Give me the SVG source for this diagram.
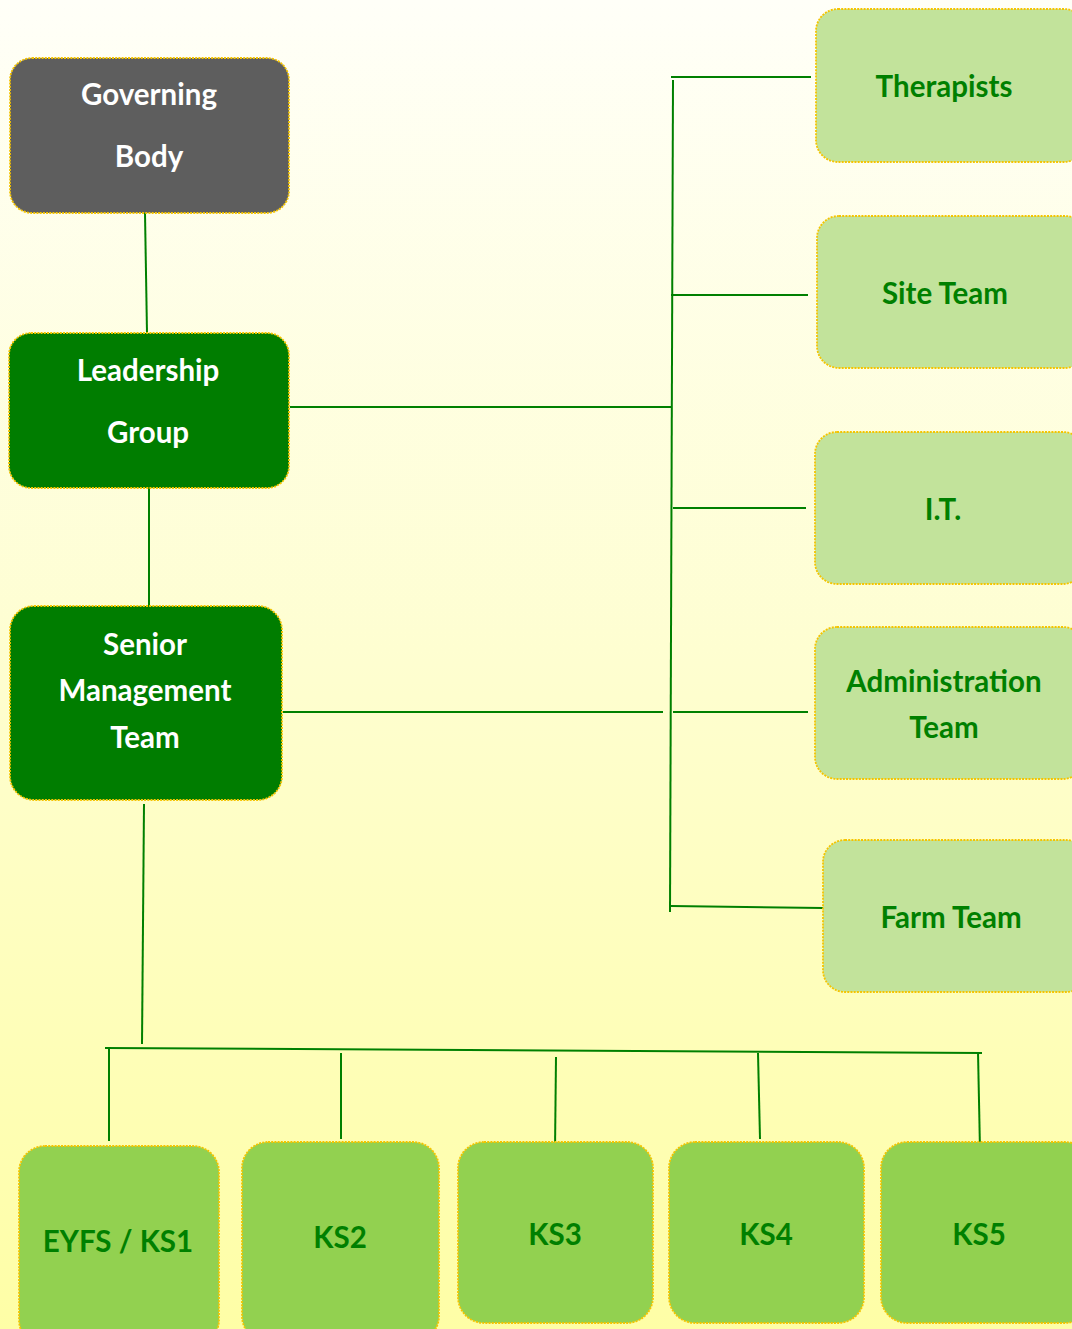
<svg xmlns="http://www.w3.org/2000/svg" width="1072" height="1329" viewBox="0 0 1072 1329">
<defs>
<linearGradient id="bg" x1="0" y1="0" x2="0" y2="1">
<stop offset="0" stop-color="#fffff8"/>
<stop offset="0.5" stop-color="#fefed0"/>
<stop offset="1" stop-color="#fefea6"/>
</linearGradient>
<style>
.box{stroke:#f5c400;stroke-width:1.8;stroke-dasharray:2 1.2}
.dark{fill:#5e5e5e}
.green{fill:#007d00}
.light{fill:#c2e39b}
.mid{fill:#92d150}
.t{font-family:Lato,"Open Sans","Liberation Sans",sans-serif;font-weight:bold;font-size:29.5px;text-anchor:middle}
.w{fill:#ffffff}
.g{fill:#008000}
.c{stroke:#008000;stroke-width:2;fill:none}
</style>
</defs>
<rect width="1072" height="1329" fill="url(#bg)"/>
<g id="connectors">
<line class="c" x1="145" y1="213" x2="147" y2="333"/>
<line class="c" x1="149" y1="488" x2="149" y2="606"/>
<line class="c" x1="290" y1="407" x2="671" y2="407"/>
<line class="c" x1="283" y1="712" x2="663" y2="712"/>
<line class="c" x1="673" y1="712" x2="808" y2="712"/>
<line class="c" x1="673" y1="80" x2="670" y2="912"/>
<line class="c" x1="671" y1="77" x2="811" y2="77"/>
<line class="c" x1="671" y1="295" x2="808" y2="295"/>
<line class="c" x1="673" y1="508" x2="806" y2="508"/>
<line class="c" x1="671" y1="906" x2="823" y2="908"/>
<line class="c" x1="144" y1="804" x2="142" y2="1044"/>
<line class="c" x1="105" y1="1048" x2="982" y2="1053"/>
<line class="c" x1="109" y1="1048" x2="109" y2="1141"/>
<line class="c" x1="341" y1="1053" x2="341" y2="1139"/>
<line class="c" x1="556" y1="1057" x2="555" y2="1150"/>
<line class="c" x1="758" y1="1053" x2="760" y2="1139"/>
<line class="c" x1="978" y1="1052" x2="980" y2="1150"/>
</g>
<g id="governing-body">
<rect class="box dark" x="10" y="58" width="279" height="155" rx="22"/>
<text class="t w" x="149" y="105">Governing</text>
<text class="t w" x="149" y="167">Body</text>
</g>
<g id="leadership-group">
<rect class="box green" x="9" y="333" width="280" height="155" rx="22"/>
<text class="t w" x="148" y="381">Leadership</text>
<text class="t w" x="148" y="443">Group</text>
</g>
<g id="senior-management-team">
<rect class="box green" x="10" y="606" width="272" height="194" rx="24"/>
<text class="t w" x="145" y="655">Senior</text>
<text class="t w" x="145" y="701">Management</text>
<text class="t w" x="145" y="748">Team</text>
</g>
<g id="therapists">
<rect class="box light" x="816" y="9" width="270" height="153" rx="22"/>
<text class="t g" x="944" y="97">Therapists</text>
</g>
<g id="site-team">
<rect class="box light" x="817" y="216" width="270" height="152" rx="22"/>
<text class="t g" x="945" y="304">Site Team</text>
</g>
<g id="it">
<rect class="box light" x="815" y="432" width="270" height="152" rx="22"/>
<text class="t g" x="943" y="520">I.T.</text>
</g>
<g id="administration-team">
<rect class="box light" x="815" y="627" width="270" height="152" rx="22"/>
<text class="t g" x="944" y="692">Administration</text>
<text class="t g" x="944" y="738">Team</text>
</g>
<g id="farm-team">
<rect class="box light" x="823" y="840" width="265" height="152" rx="22"/>
<text class="t g" x="951" y="928">Farm Team</text>
</g>
<g id="eyfs-ks1">
<rect class="box mid" x="19" y="1146" width="200" height="200" rx="26"/>
<text class="t g" x="118" y="1252">EYFS / KS1</text>
</g>
<g id="ks2">
<rect class="box mid" x="242" y="1142" width="197" height="200" rx="26"/>
<text class="t g" x="340" y="1248">KS2</text>
</g>
<g id="ks3">
<rect class="box mid" x="458" y="1142" width="195" height="181" rx="26"/>
<text class="t g" x="555" y="1245">KS3</text>
</g>
<g id="ks4">
<rect class="box mid" x="669" y="1142" width="195" height="181" rx="26"/>
<text class="t g" x="766" y="1245">KS4</text>
</g>
<g id="ks5">
<rect class="box mid" x="881" y="1142" width="210" height="181" rx="26"/>
<text class="t g" x="979" y="1245">KS5</text>
</g>
</svg>
